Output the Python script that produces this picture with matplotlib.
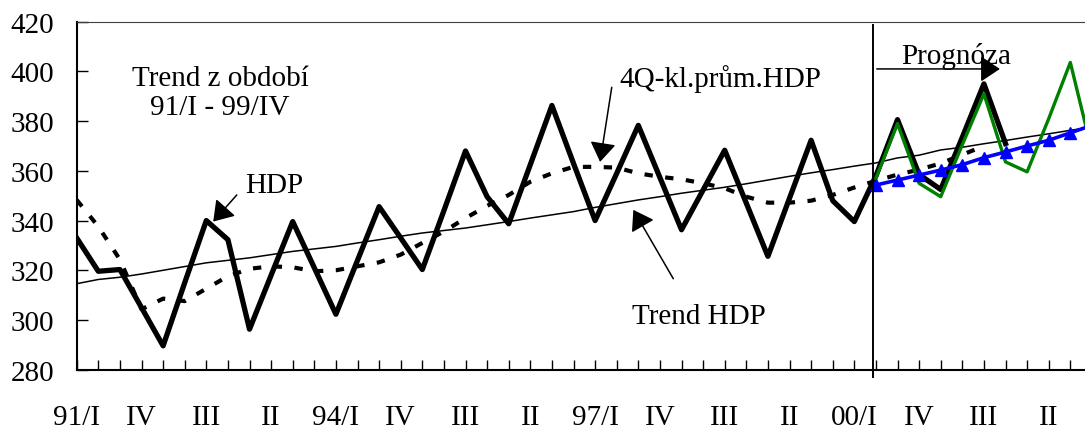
#
# HDP - quarterly series with 4Q moving average, trend and forecast
#
import numpy as np
import matplotlib
matplotlib.use('Agg')
import matplotlib.pyplot as plt

plt.rcParams['font.family'] = ['Liberation Serif', 'DejaVu Serif']
plt.rcParams['font.size'] = 21

# quarter index 0 = 91/I, 36 = 00/I
hdp = [333, 319.6, 320.3, 305, 289.6, 315, 340, 332.3, 296.3, 318,
       339.6, 321, 302.3, 324, 345.6, 333, 320.3, 344, 368, 349.6,
       338.7, 362.5, 386.3, 363, 340, 359, 378.3, 357.3, 336.3, 352.3,
       368.3, 347, 325.6, 349, 372.3, 348, 339.6, 358, 380.6, 358.5,
       352.5, 373.5, 395, 371]
ma4 = [348.3, 337.6, 324.3, 304.3, 308.6, 307.6, 312.6, 317.6, 320.6, 321.6,
       321.2, 319.6, 320, 321.6, 323.2, 326.3, 331, 335.6, 341, 345.9,
       350.3, 355.6, 359, 361.6, 361.6, 361.3, 359, 357.6, 356.6, 355,
       353, 349.6, 347.2, 347.2, 348, 350.3, 353.3, 356, 358.5, 360.5,
       363, 366.5, 370]
trend = [314.6, 316.3, 317.2, 318.5, 320, 321.5, 323, 324, 325, 326.3,
         327.6, 328.6, 329.6, 331, 332.3, 333.7, 335, 336, 337, 338.3,
         339.6, 341, 342.3, 343.6, 345.3, 346.8, 348.3, 349.6, 351, 352.2,
         353.4, 354.8, 356.3, 357.8, 359.2, 360.5, 361.9, 363.2, 365.2, 366.3,
         368.4, 369.5, 370.9, 372.2, 373.6, 374.9, 376.3, 377.6]
prog_start = 37
prog_green = [357, 379, 355, 349.6, 370.5, 391, 363.6, 359.6, 381, 403.6, 368]
prog_blue = [354.3, 356.3, 358.3, 360.3, 362.5, 365.3, 367.6, 370, 372.3, 375.3, 378.3]

tick_labels = ['91/I', 'IV', 'III', 'II', '94/I', 'IV', 'III', 'II',
               '97/I', 'IV', 'III', 'II', '00/I', 'IV', 'III', 'II']
label_step = 3
n_quarters = 47

fig = plt.figure(figsize=(10.85, 4.35), dpi=100)
ax = fig.add_axes([0.0707, 0.1478, 1 - 0.0707, 0.80])

ax.plot(np.arange(len(trend)), trend, color='black', lw=1.1)
ax.plot(np.arange(len(ma4)), ma4, color='black', lw=3,
        linestyle=(0, (2.0, 3.0)))
ax.plot(np.arange(len(hdp)), hdp, color='black', lw=3.8,
        solid_joinstyle='round')
xg = np.arange(prog_start, prog_start + len(prog_green))
ax.plot(xg, prog_green, color='#008000', lw=2.4)
xb = np.arange(prog_start, prog_start + len(prog_blue))
ax.plot(xb, prog_blue, color='#0000ff', lw=2.6, marker='^', ms=9)

# start of forecast
ax.axvline(36.85, ymin=-0.022, ymax=0.99, color='black', lw=1.4, clip_on=False)

# axes
ax.set_xlim(0, 46.68)
ax.set_ylim(280, 420)
ax.set_yticks(range(280, 421, 20))
ax.set_xticks(np.arange(n_quarters))
labels = [''] * n_quarters
for k, lab in enumerate(tick_labels):
    labels[k * label_step] = lab
ax.set_xticklabels(labels)
ax.tick_params(axis='x', direction='in', length=7, width=1, pad=25)
ax.tick_params(axis='y', direction='in', length=8, width=1, pad=16)
ax.spines['right'].set_visible(False)
ax.spines['top'].set_color('#404040')
ax.spines['top'].set_linewidth(0.8)
ax.spines['left'].set_linewidth(1.5)
ax.spines['bottom'].set_linewidth(1.5)

# texts and arrows
arrow = dict(arrowstyle='-|>,head_length=0.3,head_width=0.2',
             mutation_scale=40, color='black', lw=1.1,
             shrinkA=0, shrinkB=0)
ax.text(6.64, 391.7, 'Trend z období\n91/I - 99/IV', ha='center',
        va='center', linespacing=1.15)
ax.text(9.14, 354.3, 'HDP', ha='center', va='center')
ax.annotate('', xy=(6.32, 339.6), xytext=(7.41, 350.3), arrowprops=arrow)
ax.text(29.8, 397.5, '4Q-kl.prům.HDP', ha='center', va='center')
ax.annotate('', xy=(24.23, 363.6), xytext=(24.77, 393.6), arrowprops=arrow)
ax.text(28.8, 301.6, 'Trend HDP', ha='center', va='center')
ax.annotate('', xy=(25.77, 344.3), xytext=(27.62, 316.6), arrowprops=arrow)
ax.text(40.7, 406.3, 'Prognóza', ha='center', va='center')
ax.annotate('', xy=(42.74, 401), xytext=(37.04, 401), arrowprops=arrow)

fig.savefig('out.png', dpi=100)
